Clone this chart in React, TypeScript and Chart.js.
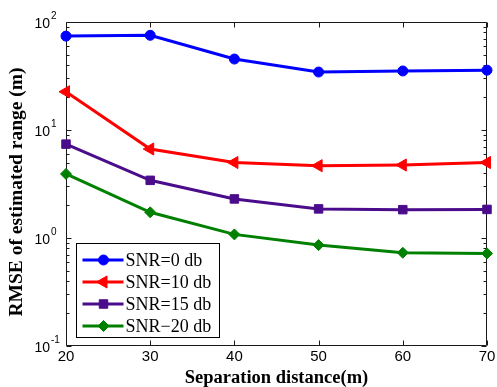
import React, { useEffect, useRef } from 'react';
import { Chart, registerables } from 'chart.js';
import { drawPoint } from 'chart.js/helpers';

Chart.register(...registerables);

// ---- data ----
const xValues = [20, 30, 40, 50, 60, 70];
const xTicks = [20, 30, 40, 50, 60, 70];
const yTickExponents = [-1, 0, 1, 2];

const seriesLabels = ['SNR=0 db', 'SNR=10 db', 'SNR=15 db', 'SNR\u221220 db'];
const snr0 = [74, 75.3, 45.4, 34.4, 35.2, 35.8];
const snr10 = [22.6, 6.67, 5.0, 4.67, 4.74, 5.0];
const snr15 = [7.4, 3.42, 2.3, 1.86, 1.83, 1.84];
const snr20 = [3.92, 1.73, 1.08, 0.86, 0.73, 0.72];

const xTitle = 'Separation distance(m)';
const yTitle = 'RMSE of estimated range (m)';

// ---- styles ----
const colors = ['#0000ff', '#ff0000', '#4b0c8c', '#008000'];
const pointStyles = ['circle', 'triangle', 'rect', 'rectRot'];
const pointRadii = [5, 7, 6, 5.5];
const pointRotations = [0, -90, 0, 0];

const SANS = '"Liberation Sans", Arial, sans-serif';
const SERIF = '"Liberation Serif", "Times New Roman", serif';

const axesPlugin = {
  id: 'matlabAxes',
  beforeDatasetsDraw(chart: any) {
    const { ctx, chartArea, scales } = chart;
    const { left, right, top, bottom } = chartArea;
    const xs = scales.x;
    const ys = scales.y;
    const L = Math.round(left) + 0.5;
    const R = Math.round(right) - 0.5;
    const T = Math.round(top) + 0.5;
    const B = Math.round(bottom) - 0.5;
    ctx.save();
    ctx.strokeStyle = '#1a1a1a';
    ctx.lineWidth = 1;
    ctx.beginPath();
    ctx.rect(L, T, R - L, B - T);
    ctx.stroke();

    ctx.beginPath();
    // x ticks (inward, bottom and top)
    xTicks.forEach((v) => {
      const px = Math.round(xs.getPixelForValue(v)) + 0.5;
      ctx.moveTo(px, B);
      ctx.lineTo(px, B - 5);
      ctx.moveTo(px, T);
      ctx.lineTo(px, T + 5);
    });
    // y ticks, major + minor on log axis
    const minE = Math.min(...yTickExponents);
    const maxE = Math.max(...yTickExponents);
    for (let e = minE; e <= maxE; e++) {
      const base = Math.pow(10, e);
      const py = Math.round(ys.getPixelForValue(base)) + 0.5;
      ctx.moveTo(L, py);
      ctx.lineTo(L + 5, py);
      ctx.moveTo(R, py);
      ctx.lineTo(R - 5, py);
      if (e < maxE) {
        for (let k = 2; k <= 9; k++) {
          const pm = Math.round(ys.getPixelForValue(k * base)) + 0.5;
          ctx.moveTo(L, pm);
          ctx.lineTo(L + 3, pm);
          ctx.moveTo(R, pm);
          ctx.lineTo(R - 3, pm);
        }
      }
    }
    ctx.stroke();

    // tick labels
    ctx.fillStyle = '#000';
    ctx.font = '15px ' + SANS;
    ctx.textAlign = 'center';
    ctx.textBaseline = 'middle';
    xTicks.forEach((v) => {
      ctx.fillText(String(v), xs.getPixelForValue(v), bottom + 11);
    });
    yTickExponents.forEach((e) => {
      const py = ys.getPixelForValue(Math.pow(10, e));
      ctx.font = '14px ' + SANS;
      ctx.textAlign = 'right';
      ctx.fillText('10', left - 16, py + 2);
      ctx.font = '10px ' + SANS;
      ctx.textAlign = 'left';
      ctx.fillText(String(e), left - 15, py - 6);
    });

    // axis titles
    ctx.font = 'bold 18.5px ' + SERIF;
    ctx.textAlign = 'center';
    ctx.fillText(xTitle, (left + right) / 2, bottom + 32);
    ctx.save();
    ctx.translate(17, 192);
    ctx.rotate(-Math.PI / 2);
    ctx.font = 'bold 19.5px ' + SERIF;
    ctx.fillText(yTitle, 0, 0);
    ctx.restore();
    ctx.restore();
  },
  afterDatasetsDraw(chart: any) {
    const { ctx, chartArea } = chart;
    const { left, bottom } = chartArea;
    const bx = Math.round(left) + 10.5;
    const by = Math.round(bottom) - 102.5;
    const bw = 143;
    const bh = 94;
    ctx.save();
    ctx.fillStyle = '#fff';
    ctx.fillRect(bx, by, bw, bh);
    ctx.strokeStyle = '#000';
    ctx.lineWidth = 1;
    ctx.strokeRect(bx, by, bw, bh);
    chart.data.datasets.forEach((ds: any, i: number) => {
      const yy = by + 16.5 + i * 22;
      ctx.strokeStyle = ds.borderColor;
      ctx.lineWidth = 3;
      ctx.beginPath();
      ctx.moveTo(bx + 6, yy);
      ctx.lineTo(bx + 47, yy);
      ctx.stroke();
      ctx.fillStyle = ds.backgroundColor;
      ctx.strokeStyle = ds.borderColor;
      ctx.lineWidth = 1;
      drawPoint(ctx, {
        pointStyle: ds.pointStyle,
        rotation: ds.pointRotation,
        radius: ds.pointRadius,
        borderWidth: 1,
      } as any, bx + 27, yy);
      ctx.fillStyle = '#000';
      ctx.font = '18px ' + SERIF;
      ctx.textAlign = 'left';
      ctx.textBaseline = 'middle';
      ctx.fillText(ds.label, bx + 49, yy + 1);
    });
    ctx.restore();
  },
};

export default function App() {
  const canvasRef = useRef<HTMLCanvasElement | null>(null);

  useEffect(() => {
    const canvas = canvasRef.current;
    if (!canvas) return;
    const seriesData = [snr0, snr10, snr15, snr20];
    const chart = new Chart(canvas, {
      type: 'line',
      data: {
        datasets: seriesData.map((vals, i) => ({
          label: seriesLabels[i],
          data: xValues.map((x, j) => ({ x, y: vals[j] })),
          borderColor: colors[i],
          backgroundColor: colors[i],
          borderWidth: 3,
          pointStyle: pointStyles[i] as any,
          pointRadius: pointRadii[i],
          pointRotation: pointRotations[i],
          pointBorderWidth: 1,
          pointBackgroundColor: colors[i],
          pointBorderColor: colors[i],
          tension: 0,
          clip: false as any,
        })),
      },
      options: {
        responsive: false,
        maintainAspectRatio: false,
        animation: false,
        layout: { padding: { left: 66, right: 10, top: 22, bottom: 41 } },
        scales: {
          x: { type: 'linear', min: 20, max: 70, display: false },
          y: { type: 'logarithmic', min: 0.1, max: 100, display: false },
        },
        plugins: {
          legend: { display: false },
          tooltip: { enabled: false },
        },
      },
      plugins: [axesPlugin],
    });
    return () => chart.destroy();
  }, []);

  return (
    <div style={{ position: 'fixed', left: 0, top: 0, width: 497, height: 387, background: '#fff' }}>
      <canvas ref={canvasRef} width={497} height={387} />
    </div>
  );
}
